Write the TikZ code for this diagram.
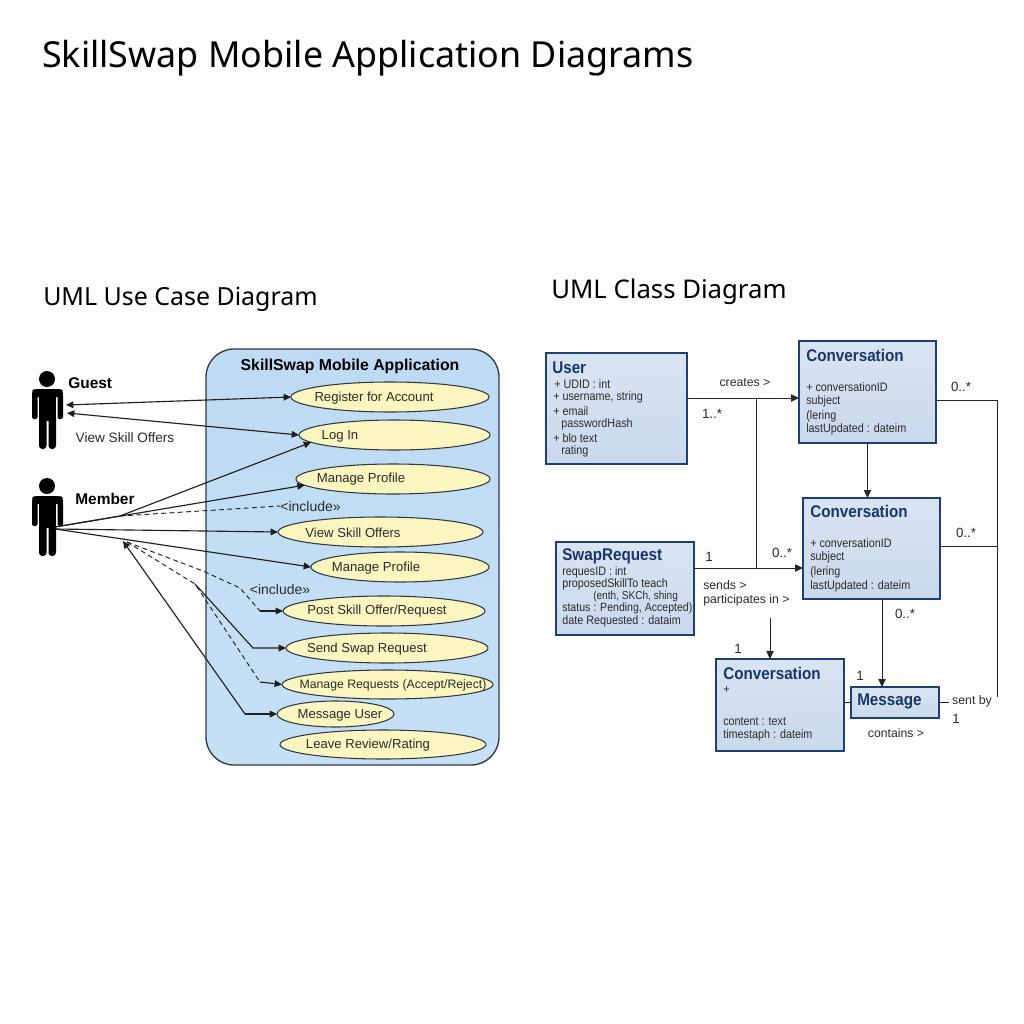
\documentclass[tikz,border=0pt]{standalone}
\usepackage{fontspec}
\setmainfont{Liberation Sans}
\newfontfamily\headfont{Noto Sans}
\newfontfamily\clsfont[FakeStretch=0.9]{Liberation Sans}
\newfontfamily\attrfont[FakeStretch=0.88]{Liberation Sans}
\usetikzlibrary{arrows.meta,shapes.geometric,calc}
\definecolor{pagebg}{HTML}{FDFDFD}
\definecolor{sysfill}{HTML}{BEDBF3}
\definecolor{sysfilltwo}{HTML}{C6E0F6}
\definecolor{ucfill}{HTML}{FBF6C0}
\definecolor{ucedge}{HTML}{2F3A45}
\definecolor{clsedge}{HTML}{1F3F73}
\definecolor{clstop}{HTML}{D9E4F1}
\definecolor{clsbot}{HTML}{C9D9EC}
\definecolor{clshead}{HTML}{17376B}
\definecolor{txt}{HTML}{2B2B2B}
\tikzset{
  x=0.75pt,y=-0.75pt,
  sized/.style 2 args={minimum width=#1*0.75pt,minimum height=#2*0.75pt,inner sep=0pt,outer sep=0pt},
  headline/.style={anchor=west,inner sep=0pt,text=black,font=\headfont\fontsize{#1}{#1}\selectfont},
  sysbox/.style={draw=ucedge,line width=1pt,rounded corners=21pt,top color=sysfill,bottom color=sysfilltwo},
  usecase/.style={ellipse,draw=ucedge,line width=0.8pt,fill=ucfill},
  uctext/.style={inner sep=0pt,yshift=-1pt,text=txt,font=\fontsize{9.85}{12}\selectfont},
  actorname/.style={anchor=west,inner sep=0pt,font=\bfseries\fontsize{11.6}{13}\selectfont},
  clsbox/.style={draw=clsedge,line width=1.4pt,top color=clstop,bottom color=clsbot},
  clstitle/.style={anchor=west,inner sep=0pt,yshift=-0.6pt,text=clshead,font=\clsfont\bfseries\fontsize{12.7}{14}\selectfont},
  attr/.style={anchor=west,inner sep=0pt,yshift=-0.6pt,text=txt,font=\attrfont\fontsize{9.2}{10}\selectfont},
  note/.style={inner sep=0pt,yshift=-0.6pt,text=txt,font=\fontsize{9.2}{10}\selectfont},
  mult/.style={inner sep=0pt,yshift=-0.6pt,text=txt,font=\fontsize{10}{11}\selectfont},
  inclabel/.style={inner sep=0pt,text=txt,font=\fontsize{10.5}{11}\selectfont},
  ln/.style={line width=0.85pt,draw=black!88},
  arr/.style={ln,-{Triangle[length=5.5pt,width=5pt]}},
  biarr/.style={ln,{Triangle[length=5.5pt,width=5pt]}-{Triangle[length=5.5pt,width=5pt]}},
  dashline/.style={ln,dash pattern=on 3.6pt off 2.6pt,line width=0.7pt},
  conn/.style={line width=0.75pt,draw=black!85},
  carr/.style={conn,-{Triangle[length=6pt,width=5.5pt]}},
}
\newcommand{\actorfig}[2]{%
  \begin{scope}[shift={(#1,#2)}]
    \fill[black] (47,379) circle[radius=8];
    \fill[black,rounded corners=2pt] (32,397) -- (32,391) -- (34,389) -- (61,389) -- (63,391) -- (63,397) -- cycle;
    \fill[black,rounded corners=1.5pt] (32,394) rectangle (37.5,419);
    \fill[black,rounded corners=1.5pt] (57.5,394) rectangle (63,419);
    \fill[black] (39,392) rectangle (56,421);
    \fill[black,rounded corners=2.5pt] (39,415) rectangle (46.5,449);
    \fill[black,rounded corners=2.5pt] (48.5,415) rectangle (56,449);
  \end{scope}}
\begin{document}
\begin{tikzpicture}
\useasboundingbox (0,0) rectangle (1024,1024);
\fill[pagebg] (0,0) rectangle (1024,1024);

% headings
\node[headline=26.9] (maintitle) at (42,58) {SkillSwap Mobile Application Diagrams};
\node[headline=18.7] (uctitle) at (43,299) {UML Use Case Diagram};
\node[headline=19.3] (cltitle) at (551,292) {UML Class Diagram};

% system boundary
\node[sysbox,sized={293}{416}] (sys) at (352.5,557) {};
\node[inner sep=0pt,font=\bfseries\fontsize{11.85}{14}\selectfont] (systitle) at (350,366) {SkillSwap Mobile Application};

% use cases
\node[usecase,sized={198}{30}] (reg) at (390,397) {};
\node[usecase,sized={191}{30}] (log) at (394.5,435) {};
\node[usecase,sized={194}{30}] (prof) at (393,479) {};
\node[usecase,sized={205}{30}] (view) at (380.5,532) {};
\node[usecase,sized={178}{30}] (prof2) at (400,567) {};
\node[usecase,sized={202}{30}] (post) at (384,611) {};
\node[usecase,sized={202}{30}] (send) at (387,648) {};
\node[usecase,sized={211}{29}] (mreq) at (387.5,684.5) {};
\node[usecase,sized={117}{26}] (msg) at (335.5,714) {};
\node[usecase,sized={206}{29}] (rev) at (383,744.5) {};
\node[uctext] (treg) at (374,397) {Register for Account};
\node[uctext] (tlog) at (340,435) {Log In};
\node[uctext] (tprof) at (361,478) {Manage Profile};
\node[uctext] (tview) at (353,531) {View Skill Offers};
\node[uctext] (tprof2) at (376,567) {Manage Profile};
\node[uctext] (tpost) at (377,610) {Post Skill Offer/Request};
\node[uctext] (tsend) at (367,648) {Send Swap Request};
\node[uctext,font=\fontsize{9.2}{12}\selectfont] (tmreq) at (393,684) {Manage Requests (Accept/Reject)};
\node[uctext] (tmsg) at (340,714) {Message User};
\node[uctext] (trev) at (368,744) {Leave Review/Rating};

% actors
\actorfig{0}{0}
\actorfig{0}{107}
\node[actorname] (guest) at (68,383) {Guest};
\node[actorname] (member) at (75,499) {Member};
\node[note,font=\fontsize{10.2}{11}\selectfont] (vso) at (125,437) {View Skill Offers};
\coordinate (ga) at (66,405);
\coordinate (gb) at (67,413);
\coordinate (ma) at (55,527);
\coordinate (mb) at (55,529);
\coordinate (j) at (120,516);
\coordinate (k) at (127,542);
\coordinate (l) at (195,584);
\coordinate (tipm) at (123,541);

\draw[biarr] (ga) -- (reg.west);
\draw[biarr] (gb) -- (log.west);
\draw[arr] (ma) -- (j) -- (log.185);
\draw[arr] (ma) -- (prof.184);
\draw[arr] (mb) -- (view.west);
\draw[arr] (mb) -- (prof2.west);
\node[inclabel] (inca) at (310.5,506) {<include>>};
\node[inclabel] (incb) at (280,589) {<include>>};
\draw[dashline] (j) -- (inca.west);
\coordinate (p1) at (203,571);
\coordinate (p2) at (240,588);
\coordinate (p3) at (260,611);
\draw[dashline] (k) -- (p1) -- (p2) -- (p3);
\draw[arr] (p3) -- (post.west);
\coordinate (q1) at (260,682);
\draw[dashline] (k) -- (l) -- (q1);
\draw[arr] (q1) -- (mreq.west);
\coordinate (r1) at (253,648);
\draw[arr] (l) -- (r1) -- (send.west);
\coordinate (s1) at (245,714);
\draw[arr] (s1) -- (tipm);
\draw[arr] (s1) -- (msg.west);

% classes
\node[clsbox,sized={141}{111}] (user) at (616.5,408.5) {};
\node[clsbox,sized={138}{93}] (swap) at (625,588.5) {};
\node[clsbox,sized={137}{102}] (cone) at (867.5,392) {};
\node[clsbox,sized={137}{101}] (ctwo) at (871.5,548.5) {};
\node[clsbox,sized={128}{92}] (cthree) at (780,705) {};
\node[clsbox,sized={88}{31}] (mess) at (895,702.5) {};

\node[clstitle] (t1) at (552,367) {User};
\node[attr] (u1) at (554,383) {+ UDID : int};
\node[attr] (u2) at (553,397) {+ username, string};
\node[attr] (u3) at (553,410) {+ email};
\node[attr] (u4) at (561,424) {passwordHash};
\node[attr] (u5) at (553,437) {+ blo text};
\node[attr] (u6) at (561,451) {rating};

\node[clstitle] (t2) at (562,556) {SwapRequest};
\node[attr] (s1t) at (562,572) {requesID : int};
\node[attr] (s2t) at (562,584) {proposedSkillTo teach};
\node[attr,font=\attrfont\fontsize{8.6}{10}\selectfont] (s3t) at (593,596) {(enth, SKCh, shing};
\node[attr,font=\attrfont\fontsize{9}{10}\selectfont] (s4t) at (562,608) {status : Pending, Accepted)};
\node[attr] (s5t) at (562,621) {date Requested : dataim};

\node[clstitle] (t3) at (806,355) {Conversation};
\node[attr] (c1a) at (806,386) {+ conversationID};
\node[attr] (c1b) at (806,401) {subject};
\node[attr] (c1c) at (806,416) {(lering};
\node[attr] (c1d) at (806,429) {lastUpdated : dateim};

\node[clstitle] (t4) at (810,511) {Conversation};
\node[attr] (c2a) at (810,542) {+ conversationID};
\node[attr] (c2b) at (810,557) {subject};
\node[attr] (c2c) at (810,572) {(lering};
\node[attr] (c2d) at (810,586) {lastUpdated : dateim};

\node[clstitle] (t5) at (723,673) {Conversation};
\node[attr] (c3a) at (723,689) {+};
\node[attr] (c3b) at (723,721) {content : text};
\node[attr] (c3c) at (723,735) {timestaph : dateim};

\node[clstitle] (t6) at (857,701) {Message};

% class connectors
\coordinate (ua) at ($(user.east)+(0,-10.5)$);
\coordinate (ca) at ($(cone.west)+(0,6)$);
\coordinate (sa) at ($(swap.east)+(0,-20.5)$);
\coordinate (cb) at ($(ctwo.west)+(0,19.5)$);
\coordinate (v1) at (756,398);
\coordinate (v2) at (756,568);
\draw[carr] (ua) -- (ca);
\draw[carr] (sa) -- (cb);
\draw[conn] (v1) -- (v2);
\draw[carr] (cone.south) -- (cone.south |- ctwo.north);
\coordinate (rail1) at (997,400);
\coordinate (rail2) at (997,697);
\coordinate (rail3) at (997,546);
\draw[conn] ($(cone.east)+(0,8)$) -- (rail1) -- (rail2);
\draw[conn] ($(ctwo.east)+(0,-2.5)$) -- (rail3);
\coordinate (dn2a) at (882,599);
\coordinate (dn2b) at (882,687);
\draw[carr] (dn2a) -- (dn2b);
\coordinate (dn3a) at (770,618);
\coordinate (dn3b) at (770,659);
\draw[carr] (dn3a) -- (dn3b);
\draw[conn] (mess.west -| cthree.east) -- (mess.west);
\coordinate (stub) at (949,702.5);
\draw[conn] (mess.east) -- (stub);

% class labels
\node[note] (l1) at (745,382) {creates >};
\node[mult] (l2) at (712,413) {1..*};
\node[mult] (l3) at (709,556) {1};
\node[mult] (l4) at (782,552) {0..*};
\node[note,anchor=west] (l5) at (703,584) {sends >};
\node[note,anchor=west] (l6) at (703,600) {participates in >};
\node[mult] (l7) at (738,648) {1};
\node[mult] (l8) at (961,386) {0..*};
\node[mult] (l9) at (966,532) {0..*};
\node[mult] (l10) at (905,613) {0..*};
\node[mult] (l11) at (860,675) {1};
\node[note] (l12) at (972,701) {sent by};
\node[mult] (l13) at (956,718) {1};
\node[note] (l14) at (896,732) {contains >};
\end{tikzpicture}
\end{document}
